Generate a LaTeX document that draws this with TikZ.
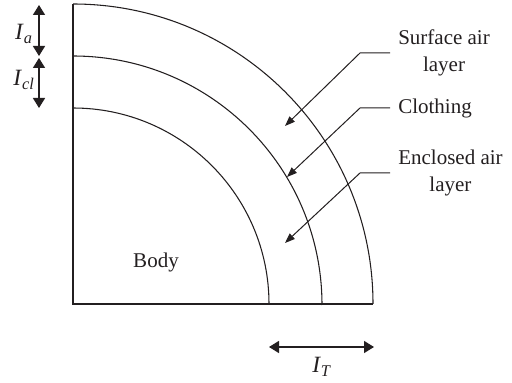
\documentclass[tikz,border=0pt]{standalone}
\usepackage{fontspec}
\setmainfont{Liberation Serif}
\usetikzlibrary{arrows.meta}
\definecolor{ink}{HTML}{231F20}
\begin{document}
\begin{tikzpicture}[x=0.75pt,y=0.75pt,
  shape line/.style={draw=ink,line width=0.8pt},
  dim arrow/.style={draw=ink,line width=1.1pt,{Triangle[length=7.5pt,width=9pt]}-{Triangle[length=7.5pt,width=9pt]}},
  leader/.style={draw=ink,line width=0.75pt,-{Triangle[length=7.5pt,width=5.5pt]}},
  lbl/.style={text=ink,font=\fontsize{15.75}{20.25}\selectfont,inner sep=0pt,align=center},
  sym/.style={text=ink,font=\fontsize{17.5}{20}\selectfont,inner sep=0pt}]
\useasboundingbox (0,0) rectangle (512,383);
% body frame
\coordinate (C) at (73,79);
\coordinate (top) at (73,379);
\coordinate (right) at (373,79);
\draw[shape line] (top) -- (C) -- (right);
\draw[shape line] (73,275) arc[start angle=90,end angle=0,radius=196];
\draw[shape line] (73,327) arc[start angle=90,end angle=0,radius=249];
\draw[shape line] (73,379) arc[start angle=90,end angle=0,radius=300];
% labels
\node[lbl] (body) at (156,121) {Body};
\node[lbl,anchor=west] (sal) at (398,330) {Surface air\\layer};
\node[lbl,anchor=west] (clo) at (398,275) {Clothing};
\node[lbl,anchor=west] (eal) at (398,210) {Enclosed air\\layer};
% leaders
\coordinate (s0) at (390,330); \coordinate (s1) at (360,330); \coordinate (s2) at (285,257);
\coordinate (c0) at (390,275); \coordinate (c1) at (360,275); \coordinate (c2) at (287,206);
\coordinate (e0) at (390,210); \coordinate (e1) at (360,210); \coordinate (e2) at (285,140);
\draw[leader] (s0) -- (s1) -- (s2);
\draw[leader] (c0) -- (c1) -- (c2);
\draw[leader] (e0) -- (e1) -- (e2);
% dimension arrows
\coordinate (a1) at (39,378); \coordinate (a2) at (39,327);
\coordinate (b1) at (39,325); \coordinate (b2) at (39,275);
\coordinate (t1) at (269,36); \coordinate (t2) at (374,36);
\draw[dim arrow] (a1) -- (a2);
\draw[dim arrow] (b1) -- (b2);
\draw[dim arrow] (t1) -- (t2);
\node[sym] (Ia) at (24,349) {\textit{I}\textsubscript{\textit{a}}};
\node[sym] (Icl) at (24,303) {\textit{I}\textsubscript{\textit{cl}}};
\node[sym] (IT) at (322,16) {\textit{I}\textsubscript{\textit{T}}};
\end{tikzpicture}
\end{document}
